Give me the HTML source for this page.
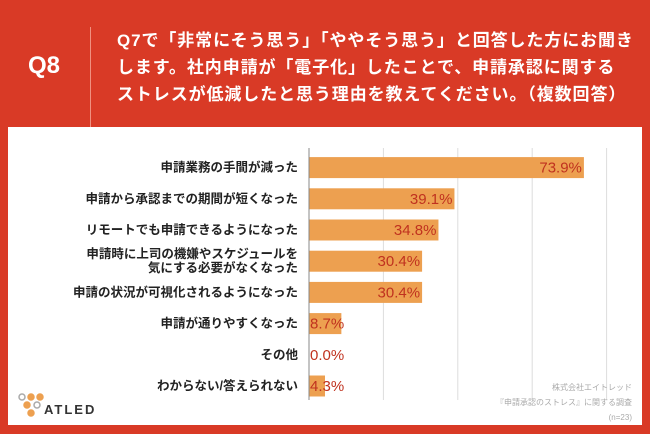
<!DOCTYPE html>
<html><head><meta charset="utf-8">
<style>
body{margin:0;width:650px;height:434px;background:#D93A26;font-family:"Liberation Sans","Noto Sans CJK JP",sans-serif;overflow:hidden;position:relative}
#q{position:absolute;left:28px;top:52px;color:#fff;font-size:24px;font-weight:bold}
#div{position:absolute;left:90px;top:27px;width:1px;height:105px;background:#f09080}
#title{position:absolute;left:117px;top:27px;color:#fff;font-size:17px;font-weight:bold;line-height:27px;letter-spacing:0.9px}
#panel{position:absolute;left:8px;top:127px;width:634px;height:298px;background:#fff}
</style></head><body>
<div id="q">Q8</div>
<div id="div"></div>
<div id="title">Q7で「非常にそう思う」「ややそう思う」と回答した方にお聞き<br>します。社内申請が「電子化」したことで、申請承認に関する<br>ストレスが低減したと思う理由を教えてください。（複数回答）</div>
<div id="panel"></div>
<svg id="chart" width="650" height="434" style="position:absolute;left:0;top:0"></svg>
<script>
const categories=["申請業務の手間が減った","申請から承認までの期間が短くなった","リモートでも申請できるようになった","申請時に上司の機嫌やスケジュールを|気にする必要がなくなった","申請の状況が可視化されるようになった","申請が通りやすくなった","その他","わからない/答えられない"];
const values=[73.9,39.1,34.8,30.4,30.4,8.7,0.0,4.3];
const gridTicks=[20,40,60,80];
const NS="http://www.w3.org/2000/svg";
const svg=document.getElementById('chart');
const x0=309,pxPer=3.72,yTop=152,rowH=31.2,barH=21;
const xs=v=>x0+v*pxPer;
const ys=i=>yTop+i*rowH;
function mk(t,a){const e=document.createElementNS(NS,t);for(const k in a)e.setAttribute(k,a[k]);svg.appendChild(e);return e;}
gridTicks.forEach(t=>{const l=mk('line',{x1:xs(t),x2:xs(t),y1:148,y2:400,stroke:'#ddd','stroke-width':1});

});
values.forEach((v,i)=>{
 const y=ys(i);
 const r=mk('rect',{x:x0,y:y+(rowH-barH)/2,width:v*pxPer,height:barH,fill:'#EDA050'});
 
 
 const w=v*pxPer,inside=w>50;
 const tv=mk('text',{x:inside?xs(v)-2:x0+1,y:y+rowH/2+5,'text-anchor':inside?'end':'start','font-size':15,fill:'#C0321F'});
 tv.textContent=v.toFixed(1)+'%';
 
 
 const parts=categories[i].split('|');
 parts.forEach((p,j)=>{
  const ty=y+rowH/2+4+(j-(parts.length-1)/2)*14;
  const tl=mk('text',{x:298,y:ty,'text-anchor':'end','font-size':12.5,'font-weight':'bold',fill:'#222'});
  tl.textContent=p;
  
  
 });
});
const ax=mk('line',{x1:x0,x2:x0,y1:148,y2:400,stroke:'#888','stroke-width':1});


[["株式会社エイトレッド",390],["『申請承認のストレス』に関する調査",405],["(n=23)",420]].forEach((s,i)=>{
 const t=mk('text',{x:632,y:s[1],'text-anchor':'end','font-size':8,fill:'#aaa'});
 t.textContent=s[0];
 
 
});
const lg=mk('text',{x:44,y:414,'font-size':13,'font-weight':'bold',fill:'#333','letter-spacing':2});
lg.textContent='ATLED';


[[22,397,'#aaa'],[31,397,'#EDA050'],[40,397,'#EDA050'],[27,405,'#EDA050'],[37,405,'#aaa'],[31,413,'#EDA050']].forEach((c,i)=>{
 const d=mk('circle',{cx:c[0],cy:c[1],r:3,fill:'none',stroke:c[2],'stroke-width':1.5});
 if(c[2]!=='#aaa')d.setAttribute('fill',c[2]);
 
 
});
</script>
</body></html>
